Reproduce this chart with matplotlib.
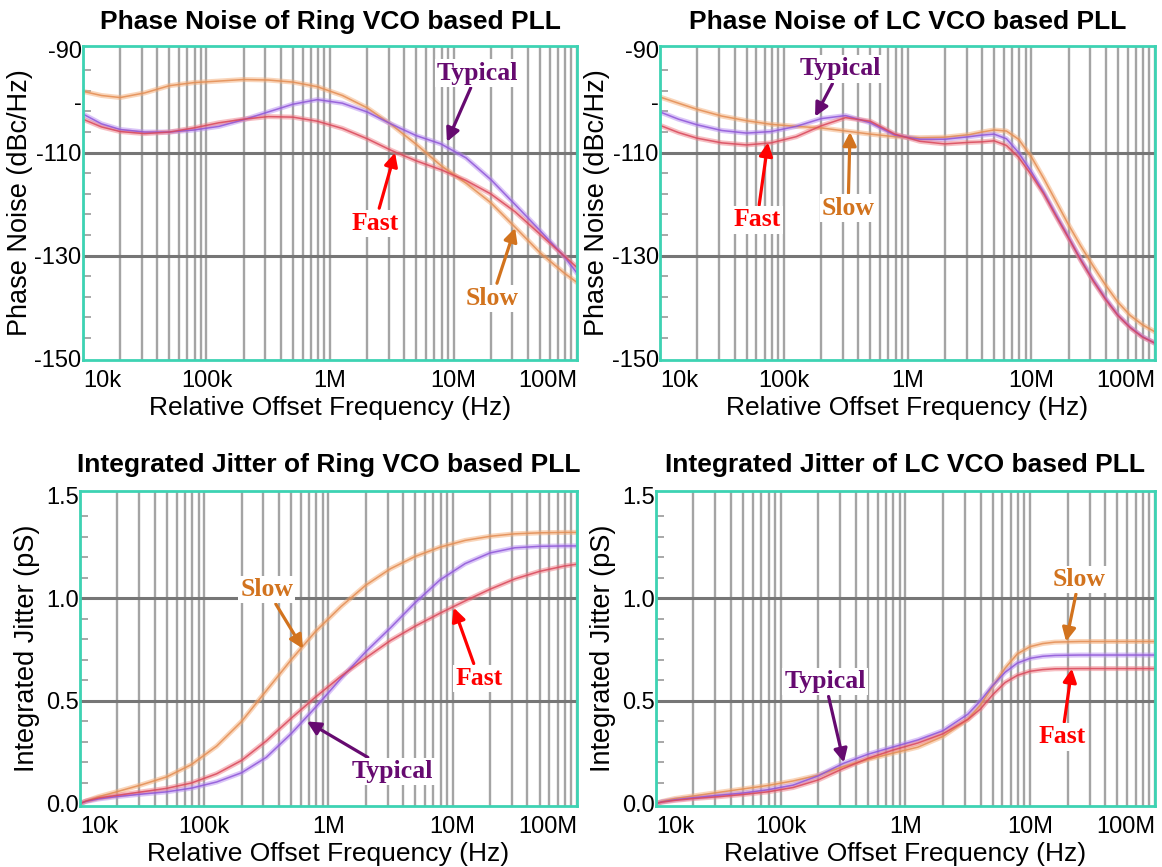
import matplotlib
matplotlib.use("Agg")
import matplotlib.pyplot as plt
from matplotlib.ticker import LogLocator, MultipleLocator, NullFormatter

plt.rcParams['font.family'] = ['Liberation Sans', 'DejaVu Sans']

# offset frequencies (Hz) where the phase noise curves were read
pn_ring_freq = [1.0e4, 1.41e4, 2.0e4, 3.16e4, 5.0e4, 7.9e4, 1.26e5, 2.0e5, 3.16e5, 5.0e5, 7.9e5,
                1.26e6, 2.0e6, 3.16e6, 5.0e6, 7.9e6, 1.26e7, 2.0e7, 3.16e7, 5.0e7, 7.9e7, 1.0e8]
pn_ring_slow = [-98.1, -98.9, -99.3, -98.4, -97.0, -96.4, -96.1, -95.8, -95.9, -96.3, -97.2,
                -98.9, -101.3, -104.6, -108.4, -112.5, -115.9, -119.7, -124.5, -129.4, -133.4, -135.2]
pn_ring_typical = [-102.5, -104.4, -105.5, -106.0, -106.0, -105.6, -104.9, -103.6, -102.1, -100.6, -99.7,
                   -100.4, -102.1, -104.5, -106.7, -108.3, -111.0, -115.2, -120.1, -125.1, -130.2, -133.4]
pn_ring_fast = [-103.5, -105.0, -105.9, -106.3, -106.0, -105.2, -104.2, -103.5, -103.0, -103.1, -103.9,
                -105.3, -107.3, -109.6, -111.6, -113.3, -115.4, -118.0, -121.5, -125.8, -130.1, -132.3]

pn_lc_freq = [1.0e4, 1.41e4, 2.0e4, 3.16e4, 5.0e4, 7.9e4, 1.26e5, 2.0e5, 3.16e5, 5.0e5, 7.9e5,
              1.26e6, 2.0e6, 3.16e6, 3.98e6, 5.0e6, 6.3e6, 7.9e6, 1.0e7, 1.26e7, 1.58e7, 2.0e7,
              2.51e7, 3.16e7, 3.98e7, 5.0e7, 6.3e7, 7.9e7, 1.0e8]
pn_lc_slow = [-99.2, -100.4, -101.6, -102.9, -103.8, -104.5, -104.9, -105.2, -105.8, -106.4, -106.9,
              -107.1, -107.0, -106.5, -106.0, -105.6, -105.8, -107.4, -110.8, -115.0, -119.4, -124.0,
              -128.1, -132.0, -135.7, -139.0, -141.6, -143.4, -144.8]
pn_lc_typical = [-102.1, -103.5, -104.6, -105.7, -106.2, -105.9, -104.9, -103.4, -102.8, -104.2, -106.6,
                 -107.4, -107.4, -106.9, -106.6, -106.4, -107.3, -110.0, -113.7, -117.7, -122.0, -126.4,
                 -130.7, -134.7, -138.3, -141.5, -143.9, -145.7, -147.0]
pn_lc_fast = [-104.7, -106.1, -107.2, -108.1, -108.5, -108.1, -106.9, -104.8, -103.2, -103.9, -106.4,
              -107.8, -108.3, -108.0, -107.9, -107.7, -108.6, -110.9, -114.3, -118.0, -122.3, -126.6,
              -130.9, -134.9, -138.5, -141.6, -144.0, -145.8, -147.0]

# integrated jitter (pS)
jit_ring_freq = [1.0e4, 1.12e4, 1.41e4, 2.0e4, 3.16e4, 5.0e4, 7.9e4, 1.26e5, 2.0e5, 3.16e5, 5.0e5, 7.9e5,
                 1.26e6, 2.0e6, 3.16e6, 5.0e6, 7.9e6, 1.26e7, 2.0e7, 3.16e7, 5.0e7, 7.9e7, 1.0e8]
jit_ring_slow = [0.0, 0.012, 0.033, 0.058, 0.092, 0.13, 0.19, 0.28, 0.40, 0.55, 0.70, 0.84,
                 0.96, 1.065, 1.145, 1.205, 1.25, 1.283, 1.303, 1.315, 1.32, 1.322, 1.322]
jit_ring_typical = [0.0, 0.01, 0.022, 0.034, 0.046, 0.057, 0.075, 0.105, 0.15, 0.225, 0.34, 0.47,
                    0.61, 0.74, 0.857, 0.98, 1.09, 1.17, 1.222, 1.247, 1.254, 1.256, 1.256]
jit_ring_fast = [0.0, 0.012, 0.027, 0.04, 0.057, 0.074, 0.1, 0.145, 0.21, 0.305, 0.415, 0.52,
                 0.62, 0.71, 0.795, 0.865, 0.928, 0.988, 1.045, 1.095, 1.132, 1.158, 1.167]

jit_lc_freq = [1.0e4, 1.12e4, 1.41e4, 2.0e4, 3.16e4, 5.0e4, 7.9e4, 1.26e5, 2.0e5, 3.16e5, 5.0e5, 7.9e5,
               1.26e6, 2.0e6, 3.16e6, 3.98e6, 5.0e6, 6.3e6, 7.9e6, 1.0e7, 1.26e7, 1.58e7, 2.51e7, 5.0e7, 1.0e8]
jit_lc_slow = [0.0, 0.01, 0.024, 0.037, 0.054, 0.071, 0.088, 0.11, 0.138, 0.18, 0.215, 0.245,
               0.275, 0.327, 0.41, 0.48, 0.57, 0.66, 0.73, 0.765, 0.78, 0.787, 0.79, 0.79, 0.79]
jit_lc_typical = [0.0, 0.008, 0.018, 0.028, 0.04, 0.051, 0.067, 0.09, 0.135, 0.195, 0.24, 0.275,
                  0.31, 0.355, 0.435, 0.5, 0.575, 0.64, 0.685, 0.708, 0.718, 0.722, 0.724, 0.724, 0.724]
jit_lc_fast = [0.0, 0.007, 0.015, 0.024, 0.033, 0.044, 0.057, 0.078, 0.115, 0.17, 0.22, 0.26,
               0.295, 0.34, 0.41, 0.46, 0.53, 0.59, 0.625, 0.645, 0.653, 0.657, 0.658, 0.658, 0.658]

x_ticks = [1e4, 1e5, 1e6, 1e7, 1e8]
x_ticklabels = ['10k', '100k', '1M', '10M', '100M']

label_colors = {'Slow': '#D2731E', 'Typical': '#660A70', 'Fast': '#FF0000'}
halo_colors = {'Slow': '#F4AC76', 'Typical': '#B68CF0', 'Fast': '#EE7E86'}
core_colors = {'Slow': '#E38C52', 'Typical': '#8E55D8', 'Fast': '#D9475A'}
TEAL = '#3DD3B3'
TICK_FONT = ['Liberation Sans Narrow', 'Liberation Sans', 'DejaVu Sans']

fig = plt.figure(figsize=(11.62, 8.67), dpi=100)


def style_axes(ax, kind, title, title_pad):
    ax.set_xscale('log')
    ax.set_xlim(1e4, 1e8)
    ax.xaxis.set_minor_locator(LogLocator(base=10, subs=range(2, 10)))
    ax.xaxis.set_minor_formatter(NullFormatter())
    ax.set_xticks(x_ticks, x_ticklabels, fontsize=17, family=TICK_FONT)
    xl = ax.get_xticklabels()
    xl[0].set_ha('left')
    xl[-1].set_ha('right')
    ax.grid(True, which='both', axis='x', color='#A4A4A4', lw=1.7)
    ax.set_axisbelow(True)
    ax.tick_params(axis='x', which='both', length=0, pad=7)

    if kind == 'pn':
        ax.set_ylim(-150.25, -89.3)
        ax.set_yticks([-150, -130, -110, -100, -90], ['-150', '-130', '-110', '-', '-90'],
                      fontsize=17, family=TICK_FONT)
        ax.yaxis.set_minor_locator(MultipleLocator(4, offset=2))
        levels = [-130, -110]
        ax.set_ylabel('Phase Noise (dBc/Hz)', fontsize=19.5, labelpad=1)
    else:
        ax.set_ylim(-0.012, 1.524)
        ax.set_yticks([0, 0.5, 1.0, 1.5], ['0.0', '0.5', '1.0', '1.5'], fontsize=17, family=TICK_FONT)
        ax.yaxis.set_minor_locator(MultipleLocator(0.1))
        levels = [0.5, 1.0]
        ax.set_ylabel('Integrated Jitter (pS)', fontsize=19.5, labelpad=4)
    for lv in levels:
        ax.axhline(lv, color='#767676', lw=2.2, zorder=1.2)
    ax.tick_params(axis='y', which='major', length=0, pad=1)
    ax.tick_params(axis='y', which='minor', direction='in', length=6, width=1.2, color='#9A9A9A')

    for s in ax.spines.values():
        s.set_color(TEAL)
        s.set_linewidth(2)

    ax.set_xlabel('Relative Offset Frequency (Hz)', fontsize=19, labelpad=3)
    ax.set_title(title, fontsize=19, fontweight='bold', pad=title_pad)


def draw_curves(ax, freq, series):
    for name in ['Slow', 'Typical', 'Fast']:
        ax.plot(freq, series[name], color=halo_colors[name], lw=3.6, alpha=0.5, zorder=2,
                solid_capstyle='round', solid_joinstyle='round')
        ax.plot(freq, series[name], color=core_colors[name], lw=1.1, alpha=0.85, zorder=2.1,
                solid_joinstyle='round')


def add_label(ax, name, target, text_pos):
    ax.annotate(name, xy=target, xytext=text_pos, textcoords='axes fraction',
                ha='center', va='center', fontsize=18.5, fontweight='bold',
                family=['Liberation Serif', 'DejaVu Serif'], color=label_colors[name],
                bbox=dict(boxstyle='square,pad=0.08', fc='white', ec='none'),
                arrowprops=dict(arrowstyle='-|>', color=label_colors[name], lw=2.3,
                                mutation_scale=20, shrinkA=1, shrinkB=0),
                zorder=5)


# Phase noise, ring VCO
ax1 = fig.add_axes([0.0714, 0.5848, 0.4252, 0.3621])
style_axes(ax1, 'pn', 'Phase Noise of Ring VCO based PLL', 12)
draw_curves(ax1, pn_ring_freq, {'Slow': pn_ring_slow, 'Typical': pn_ring_typical, 'Fast': pn_ring_fast})
add_label(ax1, 'Typical', (8.85e6, -107.9), (0.798, 0.914))
add_label(ax1, 'Fast', (3.36e6, -110.0), (0.591, 0.436))
add_label(ax1, 'Slow', (3.15e7, -124.6), (0.828, 0.197))

# Phase noise, LC VCO
ax2 = fig.add_axes([0.5680, 0.5848, 0.4260, 0.3621])
style_axes(ax2, 'pn', 'Phase Noise of LC VCO based PLL', 12)
draw_curves(ax2, pn_lc_freq, {'Slow': pn_lc_slow, 'Typical': pn_lc_typical, 'Fast': pn_lc_fast})
add_label(ax2, 'Typical', (1.79e5, -103.0), (0.364, 0.927))
add_label(ax2, 'Fast', (7.46e4, -108.0), (0.196, 0.446))
add_label(ax2, 'Slow', (3.43e5, -106.0), (0.380, 0.484))

# Integrated jitter, ring VCO
ax3 = fig.add_axes([0.0688, 0.0704, 0.4277, 0.3633])
style_axes(ax3, 'jit', 'Integrated Jitter of Ring VCO based PLL', 14)
draw_curves(ax3, jit_ring_freq, {'Slow': jit_ring_slow, 'Typical': jit_ring_typical, 'Fast': jit_ring_fast})
add_label(ax3, 'Slow', (6.24e5, 0.755), (0.376, 0.688))
add_label(ax3, 'Typical', (6.71e5, 0.40), (0.628, 0.109))
add_label(ax3, 'Fast', (1.02e7, 0.955), (0.803, 0.405))

# Integrated jitter, LC VCO
ax4 = fig.add_axes([0.5645, 0.0704, 0.4294, 0.3633])
style_axes(ax4, 'jit', 'Integrated Jitter of LC VCO based PLL', 14)
draw_curves(ax4, jit_lc_freq, {'Slow': jit_lc_slow, 'Typical': jit_lc_typical, 'Fast': jit_lc_fast})
add_label(ax4, 'Typical', (3.21e5, 0.20), (0.339, 0.395))
add_label(ax4, 'Slow', (1.94e7, 0.79), (0.848, 0.720))
add_label(ax4, 'Fast', (2.16e7, 0.658), (0.814, 0.219))

fig.savefig('out.png', dpi=100)
